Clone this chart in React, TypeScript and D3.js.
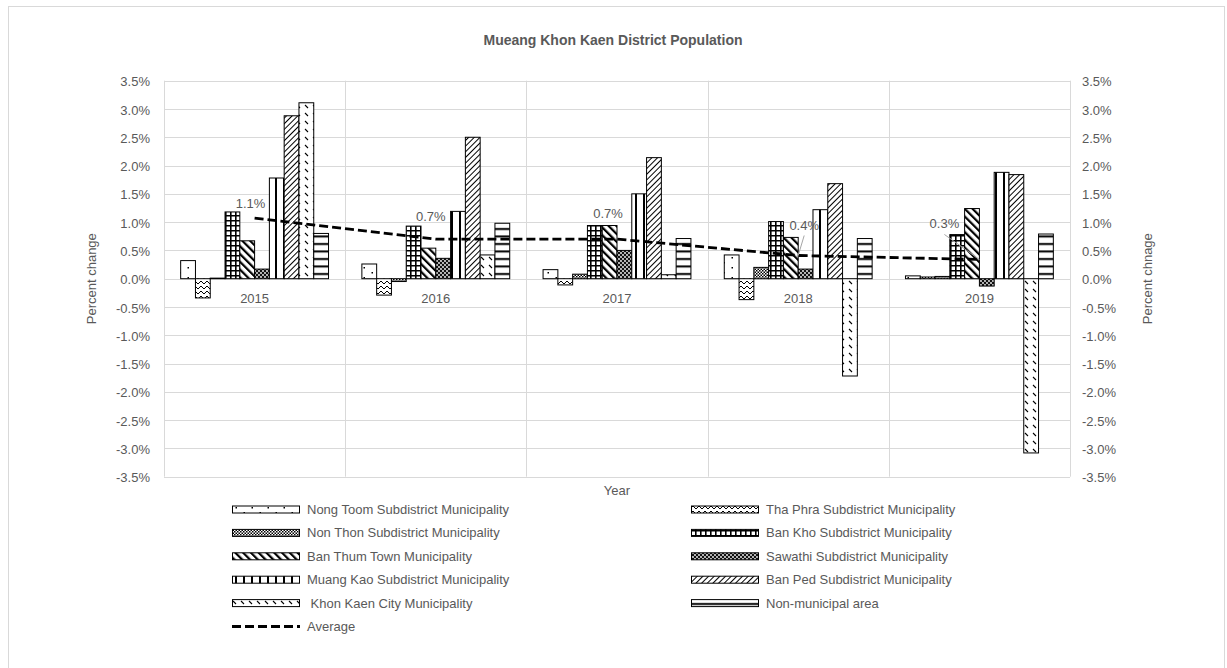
import React from 'react';
import * as d3 from 'd3';

// Year categories and tick values
const years = ['2015', '2016', '2017', '2018', '2019'];
const yTickValues = [3.5, 3.0, 2.5, 2.0, 1.5, 1.0, 0.5, 0.0, -0.5, -1.0, -1.5, -2.0, -2.5, -3.0, -3.5];

// Annual population change (%) per municipality
const nongToom = [0.32, 0.26, 0.16, 0.42, 0.05];
const thaPhra = [-0.34, -0.29, -0.11, -0.37, 0.03];
const nonThon = [0.01, -0.05, 0.08, 0.2, 0.04];
const banKho = [1.18, 0.93, 0.94, 1.01, 0.78];
const banThum = [0.67, 0.54, 0.94, 0.73, 1.24];
const sawathi = [0.17, 0.36, 0.5, 0.17, -0.13];
const muangKao = [1.78, 1.19, 1.5, 1.22, 1.88];
const banPed = [2.88, 2.5, 2.14, 1.68, 1.84];
const khonKaenCity = [3.11, 0.42, 0.07, -1.72, -3.08];
const nonMunicipal = [0.8, 0.98, 0.71, 0.71, 0.79];
const average = [1.07, 0.7, 0.7, 0.41, 0.34];

const seriesNames = [
  'Nong Toom Subdistrict Municipality',
  'Tha Phra Subdistrict Municipality',
  'Non Thon Subdistrict Municipality',
  'Ban Kho Subdistrict Municipality',
  'Ban Thum Town Municipality',
  'Sawathi Subdistrict Municipality',
  'Muang Kao Subdistrict Municipality',
  'Ban Ped Subdistrict Municipality',
  ' Khon Kaen City Municipality',
  'Non-municipal area',
];
const seriesValues = [nongToom, thaPhra, nonThon, banKho, banThum, sawathi, muangKao, banPed, khonKaenCity, nonMunicipal];
const patternIds = ['pNongToom', 'pThaPhra', 'pNonThon', 'pBanKho', 'pBanThum', 'pSawathi', 'pMuangKao', 'pBanPed', 'pKhonKaen', 'pNonMun'];

// Data-label placement for the average line (label centre / baseline relative to point)
const labelOffsets: [number, number, boolean][] = [
  [-4, -10, false],
  [-5, -18, false],
  [-9, -21, false],
  [6, -26, true],
  [-35, -31, true],
];

const W = 1227;
const H = 668;
const plot = { left: 164, right: 1070, top: 80.7, bottom: 476.7 };
const FONT = "'Liberation Sans', Arial, sans-serif";
const GREY = '#595959';
const GRID = '#d9d9d9';

const locale = d3.formatLocale({ decimal: '.', thousands: ',', grouping: [3], currency: ['$', ''], minus: '-' });
const pct = locale.format('.1%');

function Patterns() {
  return (
    <defs>
      <pattern id="pNongToom" width={16} height={10} patternUnits="userSpaceOnUse">
        <rect width={16} height={10} fill="#fff" />
        <rect x={3.5} y={2} width={1.5} height={1.5} fill="#000" />
        <rect x={11.5} y={7} width={1.5} height={1.5} fill="#000" />
      </pattern>
      <pattern id="pThaPhra" width={6} height={5} patternUnits="userSpaceOnUse">
        <rect width={6} height={5} fill="#fff" />
        <path d="M0,4 L3,1 L6,4" stroke="#000" strokeWidth={1} fill="none" />
      </pattern>
      <pattern id="pNonThon" width={3} height={3} patternUnits="userSpaceOnUse">
        <rect width={3} height={3} fill="#fff" />
        <rect x={0} y={0} width={1.5} height={1.5} fill="#000" />
        <rect x={1.5} y={1.5} width={1.5} height={1.5} fill="#000" />
      </pattern>
      <pattern id="pBanKho" width={5} height={5} patternUnits="userSpaceOnUse">
        <rect width={5} height={5} fill="#fff" />
        <path d="M0,0.8 H5 M0.8,0 V5" stroke="#000" strokeWidth={1.6} />
      </pattern>
      <pattern id="pBanThum" width={5.5} height={5.5} patternUnits="userSpaceOnUse" patternTransform="rotate(-45)">
        <rect width={5.5} height={5.5} fill="#fff" />
        <rect width={2.2} height={5.5} fill="#000" />
      </pattern>
      <pattern id="pSawathi" width={4} height={4} patternUnits="userSpaceOnUse">
        <rect width={4} height={4} fill="#111" />
        <circle cx={1} cy={1} r={0.9} fill="#fff" />
        <circle cx={3} cy={3} r={0.9} fill="#fff" />
      </pattern>
      <pattern id="pMuangKao" width={8} height={8} patternUnits="userSpaceOnUse">
        <rect width={8} height={8} fill="#fff" />
        <rect x={3} width={2} height={8} fill="#000" />
      </pattern>
      <pattern id="pBanPed" width={4} height={4} patternUnits="userSpaceOnUse" patternTransform="rotate(45)">
        <rect width={4} height={4} fill="#fff" />
        <rect width={1} height={4} fill="#000" />
      </pattern>
      <pattern id="pKhonKaen" width={8} height={8} patternUnits="userSpaceOnUse">
        <rect width={8} height={8} fill="#fff" />
        <path d="M1,1 L4,4" stroke="#000" strokeWidth={1.1} />
      </pattern>
      <pattern id="pNonMun" width={8} height={7.5} patternUnits="userSpaceOnUse">
        <rect width={8} height={7.5} fill="#fff" />
        <rect y={3} width={8} height={2} fill="#000" />
      </pattern>
    </defs>
  );
}

export default function App() {
  const x0 = d3.scaleBand<string>().domain(years).range([plot.left, plot.right]).padding(0);
  const band = x0.bandwidth();
  const gap = band * 0.092;
  const x1 = d3
    .scaleBand<number>()
    .domain(d3.range(seriesValues.length))
    .range([gap, band - gap])
    .padding(0);
  const y = d3.scaleLinear().domain([-0.035, 0.035]).range([plot.bottom, plot.top]);
  const xc = (yr: string) => (x0(yr) as number) + band / 2;

  const avgLine = d3
    .line<number>()
    .x((_, i) => xc(years[i]))
    .y((v) => y(v / 100));

  const legendRows = Math.ceil(seriesNames.length / 2);
  const legendItems = seriesNames.map((name, i) => ({ name, id: patternIds[i], col: i % 2, row: Math.floor(i / 2) }));
  const legX = [232, 691];
  const legY0 = 509.5;
  const legDy = 23.4;

  return (
    <svg width={W} height={H} style={{ position: 'absolute', left: 0, top: 0, display: 'block' }} fontFamily={FONT}>
      <Patterns />
      <rect x={0} y={0} width={W} height={H} fill="#fff" />
      <rect x={8.5} y={6.5} width={1216} height={670} fill="#fff" stroke={GRID} strokeWidth={1} />

      <text x={613} y={45} textAnchor="middle" fontSize={14} fontWeight="bold" fill={GREY}>
        Mueang Khon Kaen District Population
      </text>

      {/* horizontal gridlines */}
      {yTickValues.map((t) => (
        <line key={'g' + t} x1={plot.left} x2={plot.right} y1={Math.round(y(t / 100)) + 0.5} y2={Math.round(y(t / 100)) + 0.5} stroke={GRID} strokeWidth={1} />
      ))}
      {/* vertical category separators */}
      {[...years.map((yr) => x0(yr) as number), plot.right].map((xv, i) => (
        <line key={'v' + i} x1={Math.round(xv) + 0.5} x2={Math.round(xv) + 0.5} y1={plot.top} y2={plot.bottom} stroke={GRID} strokeWidth={1} />
      ))}

      {/* tick labels */}
      {yTickValues.map((t) => (
        <g key={'t' + t} fontSize={13} fill={GREY}>
          <text x={150} y={y(t / 100) + 1} dy="0.35em" textAnchor="end">{pct(t / 100)}</text>
          <text x={1082} y={y(t / 100) + 1} dy="0.35em" textAnchor="start">{pct(t / 100)}</text>
        </g>
      ))}

      {/* bars */}
      {seriesValues.map((vals, si) =>
        vals.map((v, yi) => {
          const bx = (x0(years[yi]) as number) + (x1(si) as number);
          const y0 = y(0);
          const yv = y(v / 100);
          return (
            <rect
              key={`b${si}-${yi}`}
              x={bx}
              y={Math.min(y0, yv)}
              width={x1.bandwidth()}
              height={Math.max(Math.abs(yv - y0), 0.5)}
              fill={`url(#${patternIds[si]})`}
              stroke="#000"
              strokeWidth={1}
            />
          );
        })
      )}

      {/* category labels */}
      {years.map((yr) => (
        <text key={'c' + yr} x={xc(yr)} y={303} textAnchor="middle" fontSize={13} fill={GREY}>
          {yr}
        </text>
      ))}

      {/* average line */}
      <path d={avgLine(average) || ''} fill="none" stroke="#000" strokeWidth={2.8} strokeDasharray="9,4" />

      {/* average data labels */}
      {average.map((v, i) => {
        const px = xc(years[i]);
        const py = y(v / 100);
        const [dx, dy, leader] = labelOffsets[i];
        return (
          <g key={'l' + i}>
            {leader && <line x1={px + dx} y1={py + dy + 6} x2={px} y2={py} stroke="#a6a6a6" strokeWidth={1} />}
            <text x={px + dx} y={py + dy} textAnchor="middle" fontSize={13} fill={GREY}>
              {pct(v / 100)}
            </text>
          </g>
        );
      })}

      {/* axis titles */}
      <text transform={`translate(96,${(plot.top + plot.bottom) / 2}) rotate(-90)`} textAnchor="middle" fontSize={13} fill={GREY}>
        Percent change
      </text>
      <text transform={`translate(1152,${(plot.top + plot.bottom) / 2}) rotate(-90)`} textAnchor="middle" fontSize={13} fill={GREY}>
        Percent chnage
      </text>
      <text x={(plot.left + plot.right) / 2} y={495} textAnchor="middle" fontSize={13} fill={GREY}>
        Year
      </text>

      {/* legend */}
      {legendItems.map((it) => {
        const lx = legX[it.col];
        const ly = legY0 + it.row * legDy;
        return (
          <g key={'lg' + it.id}>
            <rect x={lx + 0.5} y={ly - 3.5} width={67} height={7} fill={`url(#${it.id})`} stroke="#000" strokeWidth={1} />
            <text x={lx + 75} y={ly} dy="0.35em" fontSize={13} fill={GREY} style={{ whiteSpace: 'pre' }}>
              {it.name}
            </text>
          </g>
        );
      })}
      <g>
        <line x1={legX[0]} x2={legX[0] + 68} y1={legY0 + legendRows * legDy} y2={legY0 + legendRows * legDy} stroke="#000" strokeWidth={2.8} strokeDasharray="9,4" />
        <text x={legX[0] + 75} y={legY0 + legendRows * legDy} dy="0.35em" fontSize={13} fill={GREY}>
          Average
        </text>
      </g>
    </svg>
  );
}
